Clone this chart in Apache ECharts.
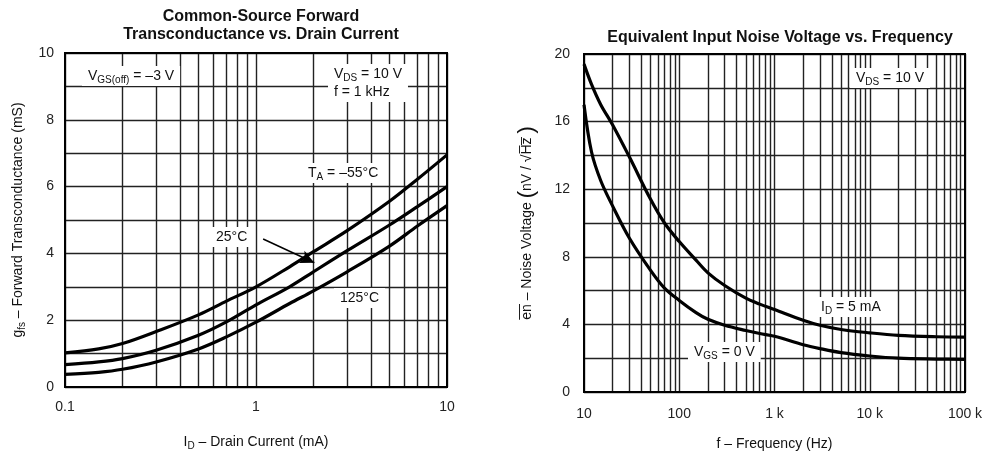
<!DOCTYPE html>
<html>
<head>
<meta charset="utf-8">
<script src="https://cdn.jsdelivr.net/npm/echarts@6/dist/echarts.min.js"></script>
<style>
  html, body { margin: 0; padding: 0; background: #fff; }
  #chart { width: 987px; height: 456px; }
</style>
</head>
<body>
<div id="chart"></div>
<script>
  // left chart: gfs vs drain current
  var drainCurrent = [0.1, 0.15, 0.2, 0.3, 0.5, 0.7, 1, 1.5, 2, 3, 5, 7, 10]
  var gfsMinus55 = [1.02, 1.14, 1.3, 1.66, 2.16, 2.57, 3.0, 3.6, 4.05, 4.68, 5.56, 6.22, 6.95]
  var gfs25 = [0.67, 0.75, 0.85, 1.1, 1.55, 1.95, 2.46, 3.0, 3.45, 4.08, 4.85, 5.4, 6.0]
  var gfs125 = [0.38, 0.44, 0.53, 0.75, 1.14, 1.5, 1.94, 2.5, 2.88, 3.45, 4.22, 4.82, 5.43]
  var currentMinorLines = [0.2, 0.3, 0.4, 0.5, 0.6, 0.7, 0.8, 0.9, 2, 3, 4, 5, 6, 7, 8, 9]

  // right chart: noise voltage vs frequency
  var frequency = [10, 12, 15, 20, 30, 50, 70, 100, 150, 200, 300, 500, 700, 1000, 2000, 3000, 5000, 10000, 20000, 50000, 100000]
  var noiseId5mA = [19.4, 18.2, 17.0, 15.8, 13.9, 11.4, 10.0, 8.9, 7.8, 7.05, 6.3, 5.55, 5.2, 4.88, 4.25, 3.95, 3.7, 3.5, 3.35, 3.27, 3.25]
  var noiseVgs0 = [17.0, 14.2, 12.5, 11.0, 9.1, 7.2, 6.15, 5.42, 4.7, 4.3, 3.95, 3.64, 3.46, 3.3, 2.8, 2.57, 2.33, 2.13, 2.0, 1.95, 1.93]
  var freqMinorLines = [20, 30, 40, 50, 60, 70, 80, 90, 200, 300, 400, 500, 600, 700, 800, 900,
    2000, 3000, 4000, 5000, 6000, 7000, 8000, 9000, 20000, 30000, 40000, 50000, 60000, 70000, 80000, 90000]

  var FONT = 'Liberation Sans, Arial, sans-serif'
  var gridColor = '#222'

  function pairs(xs, ys){
    var out = []
    for (var i = 0; i < xs.length; i++){
      out.push([xs[i], ys[i]])
    }
    return out
  }

  function curve(name, idx, xs, ys){
    return {
      name: name,
      type: 'line',
      xAxisIndex: idx,
      yAxisIndex: idx,
      data: pairs(xs, ys),
      smooth: 0.35,
      showSymbol: false,
      silent: true,
      z: 5,
      lineStyle: {color: '#000', width: 3.2}
    }
  }

  function minorGrid(idx, values){
    return {
      type: 'line',
      xAxisIndex: idx,
      yAxisIndex: idx,
      data: [],
      silent: true,
      z: 1,
      markLine: {
        silent: true,
        symbol: 'none',
        animation: false,
        label: {show: false},
        lineStyle: {color: gridColor, width: 1.4, type: 'solid'},
        data: values.map(function (v) { return {xAxis: v} })
      }
    }
  }

  var subRich = {
    n: {fontFamily: FONT, fontSize: 14, color: '#111', lineHeight: 18},
    s: {fontFamily: FONT, fontSize: 10, color: '#111', lineHeight: 18, verticalAlign: 'bottom', padding: [6, 0, 0, 0]}
  }

  function note(x, y, text){
    return {
      type: 'text',
      left: x,
      top: y,
      z: 10,
      style: {
        text: text,
        rich: subRich,
        font: '14px ' + FONT,
        fill: '#111',
        backgroundColor: '#fff',
        padding: [1, 6, 1, 6]
      }
    }
  }

  var chart = echarts.init(document.getElementById('chart'))
  chart.setOption({
    animation: false,
    backgroundColor: '#fff',
    title: [
      {
        text: 'Common-Source Forward\nTransconductance vs. Drain Current',
        left: 256, top: 3, textAlign: 'center',
        textStyle: {fontFamily: FONT, fontSize: 16, fontWeight: 'bold', color: '#111', lineHeight: 18}
      },
      {
        text: 'Equivalent Input Noise Voltage vs. Frequency',
        left: 775, top: 25, textAlign: 'center',
        textStyle: {fontFamily: FONT, fontSize: 16, fontWeight: 'bold', color: '#111'}
      }
    ],
    grid: [
      {left: 65, right: 540, top: 53, bottom: 62, show: true, borderColor: '#000', borderWidth: 2, backgroundColor: 'transparent', z: 6},
      {left: 584, right: 22, top: 54, bottom: 62, show: true, borderColor: '#000', borderWidth: 2, backgroundColor: 'transparent', z: 6}
    ],
    xAxis: [
      {
        gridIndex: 0, type: 'log', logBase: 10, min: 0.1, max: 10,
        axisLine: {show: false}, axisTick: {show: false},
        splitLine: {show: true, lineStyle: {color: gridColor, width: 1.4}},
        axisLabel: {fontFamily: FONT, fontSize: 14, color: '#222', margin: 13,
          formatter: function (v) { return v < 1 ? '0.1' : String(Math.round(v)) }},
        name: '{n|I}{s|D}{n| – Drain Current (mA)}', nameLocation: 'middle', nameGap: 46,
        nameTextStyle: {rich: subRich}
      },
      {
        gridIndex: 1, type: 'log', logBase: 10, min: 10, max: 100000,
        axisLine: {show: false}, axisTick: {show: false},
        splitLine: {show: true, lineStyle: {color: gridColor, width: 1.4}},
        axisLabel: {fontFamily: FONT, fontSize: 14, color: '#222', margin: 15,
          formatter: function (v) { return v >= 1000 ? (Math.round(v / 1000) + ' k') : String(Math.round(v)) }},
        name: 'f – Frequency (Hz)', nameLocation: 'middle', nameGap: 45,
        nameTextStyle: {fontFamily: FONT, fontSize: 14, color: '#111'}
      }
    ],
    yAxis: [
      {
        gridIndex: 0, type: 'value', min: 0, max: 10, interval: 2,
        axisLine: {show: false}, axisTick: {show: false},
        splitLine: {show: true, lineStyle: {color: gridColor, width: 1.4}},
        minorTick: {show: false, splitNumber: 2},
        minorSplitLine: {show: true, lineStyle: {color: gridColor, width: 1.4}},
        axisLabel: {fontFamily: FONT, fontSize: 14, color: '#222', margin: 11},
        name: '{n|g}{s|fs}{n| – Forward Transconductance (mS)}', nameLocation: 'middle', nameGap: 38,
        nameTextStyle: {rich: subRich}
      },
      {
        gridIndex: 1, type: 'value', min: 0, max: 20, interval: 4,
        axisLine: {show: false}, axisTick: {show: false},
        splitLine: {show: true, lineStyle: {color: gridColor, width: 1.4}},
        minorTick: {show: false, splitNumber: 2},
        minorSplitLine: {show: true, lineStyle: {color: gridColor, width: 1.4}},
        axisLabel: {fontFamily: FONT, fontSize: 14, color: '#222', margin: 14},
        name: '{n|e\u0305n\u0305 – Noise Voltage }{p|(}{n|nV / √H\u0305z\u0305 }{p|)}', nameLocation: 'middle', nameGap: 46,
        nameTextStyle: {rich: {
          n: {fontFamily: FONT, fontSize: 14, color: '#111'},
          p: {fontFamily: FONT, fontSize: 22, color: '#111'}
        }}
      }
    ],
    series: [
      minorGrid(0, currentMinorLines),
      minorGrid(1, freqMinorLines),
      curve('TA = -55C', 0, drainCurrent, gfsMinus55),
      Object.assign(curve('25C', 0, drainCurrent, gfs25), {
        markLine: {
          silent: true,
          symbol: ['none', 'arrow'],
          symbolSize: [10, 14],
          label: {show: false},
          lineStyle: {color: '#000', width: 1.5, type: 'solid'},
          data: [[{coord: [1.09, 4.43]}, {coord: [2.02, 3.72]}]]
        }
      }),
      curve('125C', 0, drainCurrent, gfs125),
      curve('ID = 5 mA', 1, frequency, noiseId5mA),
      curve('VGS = 0 V', 1, frequency, noiseVgs0)
    ],
    graphic: [
      note(82, 66, '{n|V}{s|GS(off)}{n| = –3 V}'),
      note(328, 64, '{n|V}{s|DS}{n| = 10 V}\n{n|f = 1 kHz}'),
      note(302, 163, '{n|T}{s|A}{n| = –55°C}'),
      note(210, 227, '{n|25°C}'),
      note(334, 288, '{n|125°C}'),
      note(850, 68, '{n|V}{s|DS}{n| = 10 V}'),
      note(815, 297, '{n|I}{s|D}{n| = 5 mA}'),
      note(688, 342, '{n|V}{s|GS}{n| = 0 V}')
    ]
  })
</script>
</body>
</html>
